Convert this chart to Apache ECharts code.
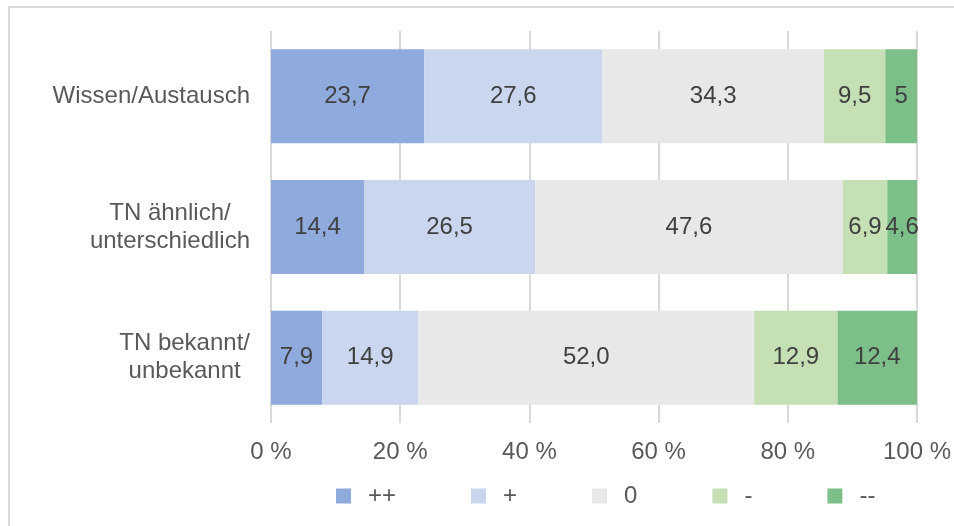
<!DOCTYPE html>
<html>
<head>
<meta charset="utf-8">
<script src="https://cdn.jsdelivr.net/npm/echarts@6/dist/echarts.min.js"></script>
<style>
  html, body { margin: 0; padding: 0; background: #ffffff; }
  #chart { width: 954px; height: 526px; }
</style>
</head>
<body>
<div id="chart"></div>
<script>
// Rating groups (top to bottom)
const categories = ['Wissen/Austausch', 'TN ähnlich/\nunterschiedlich', 'TN bekannt/\nunbekannt'];

// Percent shares per rating, kept as printed (decimal point) for the labels
const seriesNames = ['++', '+', '0', '-', '--'];
const valPlusPlus = ['23.7', '14.4', '7.9'];
const valPlus = ['27.6', '26.5', '14.9'];
const valZero = ['34.3', '47.6', '52.0'];
const valMinus = ['9.5', '6.9', '12.9'];
const valMinusMinus = ['5', '4.6', '12.4'];

const xTicks = [0, 20, 40, 60, 80, 100];

const colors = ['#8faadc', '#c9d6ee', '#e8e8e8', '#c5e0b4', '#7cbf88'];
const FONT = '"Liberation Sans", Arial, sans-serif';

const seriesValues = [valPlusPlus, valPlus, valZero, valMinus, valMinusMinus];

const series = seriesNames.map((name, i) => ({
  name: name,
  type: 'bar',
  stack: 'total',
  barCategoryGap: '28%',
  itemStyle: { color: colors[i] },
  label: {
    show: true,
    position: 'inside',
    color: '#404040',
    fontSize: 24,
    fontFamily: FONT,
    formatter: p => p.data.text
  },
  data: seriesValues[i].map(s => ({ value: Number(s), text: s.replace('.', ',') }))
}));

const chart = echarts.init(document.getElementById('chart'), null, { renderer: 'canvas' });
chart.setOption({
  animation: false,
  backgroundColor: '#ffffff',
  textStyle: { fontFamily: FONT },
  graphic: [{
    type: 'rect',
    silent: true,
    shape: { x: 9, y: 7, width: 980, height: 560 },
    style: { fill: null, stroke: '#d9d9d9', lineWidth: 2 }
  }],
  grid: { left: 271, right: 36, top: 31, bottom: 103, containLabel: false },
  legend: {
    data: seriesNames,
    left: 331,
    top: 479,
    icon: 'rect',
    itemWidth: 15,
    itemHeight: 15,
    itemGap: 75,
    textStyle: { color: '#595959', fontSize: 24, fontFamily: FONT, padding: [0, 0, 0, 12] }
  },
  xAxis: {
    type: 'value',
    min: xTicks[0],
    max: xTicks[xTicks.length - 1],
    interval: xTicks[1] - xTicks[0],
    axisLine: { show: false },
    axisTick: { show: false },
    splitLine: { show: true, lineStyle: { color: '#d9d9d9', width: 2 } },
    axisLabel: {
      color: '#595959',
      fontSize: 24,
      fontFamily: FONT,
      margin: 17,
      formatter: v => v + ' %'
    }
  },
  yAxis: {
    type: 'category',
    inverse: true,
    data: categories,
    axisLine: { show: false },
    axisTick: { show: false },
    axisLabel: {
      color: '#595959',
      fontSize: 24,
      fontFamily: FONT,
      margin: 21,
      lineHeight: 28,
      formatter: v => v.split('\n').map(l => '{c|' + l + '}').join('\n'),
      rich: { c: { align: 'center', color: '#595959', fontSize: 24, fontFamily: FONT, lineHeight: 28 } }
    }
  },
  series: series
});
</script>
</body>
</html>
